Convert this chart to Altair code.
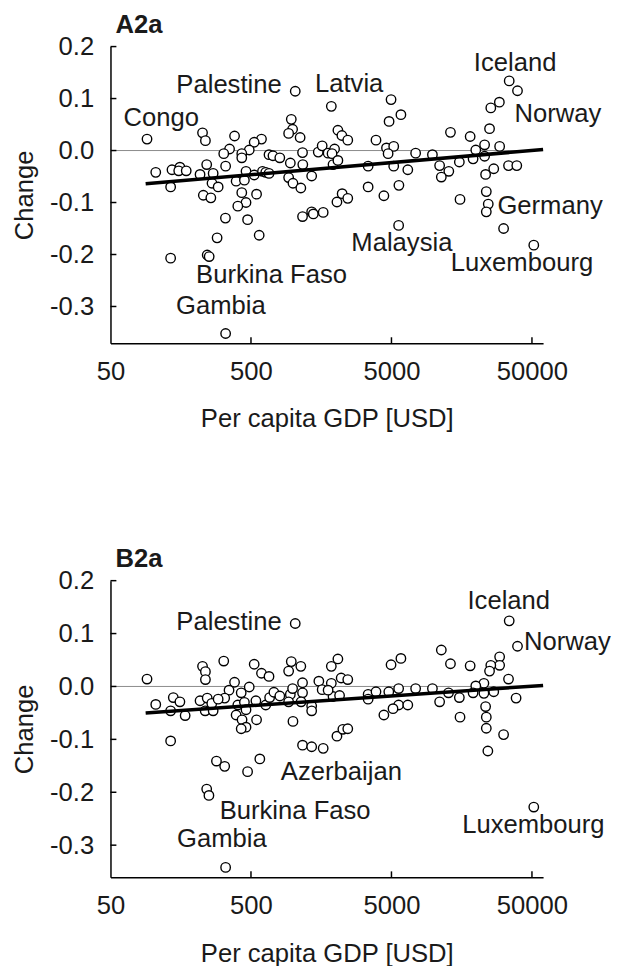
import altair as alt
import pandas as pd

FONT = "Liberation Sans"

X_TICKS = [50, 500, 5000, 50000]
Y_TICKS = [0.2, 0.1, 0.0, -0.1, -0.2, -0.3]
X_INNER_TICKS = [500, 5000, 50000]

# ---------------- Panel A2a ----------------
a_gdp = [1033, 1866, 91, 226, 237, 382, 594, 527, 968, 989, 927, 1119, 2078, 2218, 2443,
         352, 320, 486, 430, 430, 105, 137, 156, 153, 173, 134, 217, 242, 269, 264, 292, 330,
         229, 259, 392, 449, 461, 527, 604, 637, 672, 430, 461, 403, 548, 672, 717, 802, 953,
         1164, 1169, 1352, 927, 995, 1132, 1506, 1606, 1770, 1968, 1888, 1919, 2078, 329, 473,
         572, 287, 1164, 1352, 1389, 1633, 2046, 2228, 2443, 134, 244, 252, 330,
         34440, 39450, 4966, 5837, 4808, 25470, 29310, 24950, 13150, 18160, 3880, 4608, 5188,
         4732, 7430, 9783, 19910, 23010, 29440, 23010, 19050, 15210, 12800, 11320, 11010, 3411,
         5188, 6535, 23390, 26730, 34050, 38990, 3411, 4416, 5649, 15380, 23660, 24430, 23660,
         31410, 5623, 51520]
a_change = [0.114, 0.085, 0.022, 0.034, 0.019, 0.028, 0.022, 0.016, 0.060, 0.041, 0.033, 0.025,
            0.039, 0.029, 0.020, 0.003, -0.006, 0.001, -0.006, -0.014, -0.042, -0.037, -0.032,
            -0.039, -0.039, -0.070, -0.046, -0.027, -0.044, -0.063, -0.070, -0.030, -0.086,
            -0.091, -0.059, -0.057, -0.040, -0.047, -0.040, -0.042, -0.044, -0.081, -0.100,
            -0.107, -0.084, -0.008, -0.010, -0.014, -0.024, -0.004, -0.027, -0.049, -0.052,
            -0.063, -0.072, -0.003, 0.009, -0.005, 0.003, -0.006, -0.027, -0.019, -0.130,
            -0.133, -0.163, -0.168, -0.127, -0.118, -0.122, -0.119, -0.099, -0.083, -0.092,
            -0.207, -0.201, -0.204, -0.352,
            0.134, 0.115, 0.098, 0.069, 0.056, 0.082, 0.093, 0.042, 0.035, 0.027, 0.020, 0.005,
            0.008, -0.006, -0.005, -0.008, 0.001, 0.011, 0.008, -0.011, -0.016, -0.022, -0.040,
            -0.051, -0.029, -0.030, -0.030, -0.037, -0.046, -0.035, -0.029, -0.029, -0.070,
            -0.087, -0.067, -0.094, -0.079, -0.103, -0.118, -0.150, -0.144, -0.182]
a_label_text = ["Congo", "Palestine", "Latvia", "Iceland", "Norway", "Germany", "Malaysia",
                "Luxembourg", "Burkina Faso", "Gambia"]
a_label_gdp = [115, 349, 2500, 37930, 76560, 67300, 5930, 42460, 700, 305]
a_label_change = [0.062, 0.125, 0.128, 0.169, 0.071, -0.106, -0.179, -0.217, -0.239, -0.299]
a_line_gdp = [89, 60000]
a_line_change = [-0.064, 0.002]
a_ymin = -0.3706

# ---------------- Panel B2a ----------------
b_gdp = [1033, 91, 226, 237, 237, 320, 527, 594, 672, 968, 927, 1132, 1866, 2078, 1521, 1866,
         2193, 2443, 382, 349, 486, 426, 325, 105, 140, 156, 134, 170, 217, 244, 236, 269, 263,
         292, 403, 449, 461, 392, 432, 461, 426, 542, 548, 637, 679, 728, 802, 953, 989, 1164,
         1164, 1137, 1352, 1352, 927, 995, 1919, 2136, 1606, 1770, 134, 1164, 1352, 1633, 2046,
         2254, 2443, 284, 325, 473, 578, 242, 251, 330,
         34440, 39450, 11320, 4966, 5837, 13150, 18160, 29440, 29440, 25470, 24950, 34050,
         22750, 19910, 22750, 26730, 19050, 38550, 15210, 12740, 11010, 9783, 7430, 5623, 4786,
         3411, 3411, 3880, 5623, 6535, 5129, 4416, 15380, 23390, 23660, 23660, 31410, 24270,
         51520]
b_change = [0.119, 0.014, 0.038, 0.028, 0.013, 0.048, 0.042, 0.025, 0.019, 0.047, 0.029, 0.038,
            0.038, 0.052, 0.010, 0.006, 0.016, 0.013, 0.008, -0.007, -0.001, -0.012, -0.022,
            -0.034, -0.021, -0.029, -0.046, -0.055, -0.027, -0.022, -0.046, -0.046, -0.032,
            -0.024, -0.035, -0.030, -0.044, -0.054, -0.063, -0.077, -0.080, -0.027, -0.063,
            -0.035, -0.021, -0.011, -0.018, -0.015, -0.004, -0.012, 0.007, -0.029, -0.037,
            -0.046, -0.029, -0.066, -0.019, -0.017, -0.006, -0.007, -0.103, -0.111, -0.114,
            -0.117, -0.094, -0.081, -0.080, -0.141, -0.151, -0.161, -0.137, -0.194, -0.206,
            -0.342,
            0.124, 0.076, 0.069, 0.041, 0.053, 0.043, 0.039, 0.056, 0.040, 0.040, 0.029, 0.014,
            0.006, 0.001, -0.013, -0.010, -0.012, -0.022, -0.021, -0.012, -0.029, -0.004,
            -0.004, -0.004, -0.010, -0.015, -0.024, -0.010, -0.035, -0.035, -0.042, -0.054,
            -0.058, -0.038, -0.058, -0.079, -0.091, -0.122, -0.228]
b_label_text = ["Palestine", "Iceland", "Norway", "Azerbaijan", "Burkina Faso", "Gambia",
                "Luxembourg"]
b_label_gdp = [349, 34200, 89300, 2200, 1031, 310, 51170]
b_label_change = [0.122, 0.162, 0.084, -0.161, -0.235, -0.288, -0.263]
b_line_gdp = [89, 60000]
b_line_change = [-0.050, 0.002]
b_ymin = -0.3607

W, H = 439, 301
TXT = "#1a1a1a"
FS = 26


def panel(title, gdp, change, lab_text, lab_gdp, lab_change, line_gdp, line_change, ymin):
    xscale = alt.Scale(type="log", domain=[50, 60000], nice=False)
    yscale = alt.Scale(domain=[ymin, 0.2], nice=False, zero=False)
    xaxis = alt.Axis(values=X_TICKS, format="d", title="Per capita GDP [USD]", ticks=False,
                     grid=False, domainColor="black", domainWidth=1.5, labelFontSize=FS,
                     titleFontSize=FS, titleFontWeight="normal", labelFont=FONT, titleFont=FONT,
                     labelColor=TXT, titleColor=TXT, labelPadding=16, titlePadding=22,
                     labelFlush=False, labelOverlap=False)
    yaxis = alt.Axis(values=Y_TICKS, title="Change", ticks=False, grid=False,
                     labelExpr="replace(format(datum.value, '.1f'), '\u2212', '-')",
                     domainColor="black", domainWidth=1.5, labelFontSize=FS,
                     titleFontSize=FS, titleFontWeight="normal", labelFont=FONT, titleFont=FONT,
                     labelColor=TXT, titleColor=TXT, labelPadding=17, titlePadding=12,
                     labelFlush=False, labelOverlap=False)
    X = alt.X("gdp:Q", scale=xscale, axis=xaxis)
    Y = alt.Y("change:Q", scale=yscale, axis=yaxis)

    pts = pd.DataFrame({"gdp": gdp, "change": change})
    labs = pd.DataFrame({"gdp": lab_gdp, "change": lab_change, "name": lab_text})
    line = pd.DataFrame({"gdp": line_gdp, "change": line_change})

    zero = alt.Chart(pd.DataFrame({"change": [0.0]})).mark_rule(
        color="#8a8a8a", strokeWidth=1).encode(y=Y)
    points = alt.Chart(pts).mark_point(
        shape="circle", filled=False, fill="white", fillOpacity=1, stroke="black",
        strokeWidth=1.4, size=92, opacity=1).encode(x=X, y=Y)
    reg = alt.Chart(line).mark_line(color="black", strokeWidth=3.6).encode(x=X, y=Y)
    text = alt.Chart(labs).mark_text(
        fontSize=FS, font=FONT, color=TXT, align="center", baseline="middle").encode(
        x=X, y=Y, text="name:N")
    xt = alt.Chart(pd.DataFrame({"gdp": X_INNER_TICKS})).mark_rule(
        color="black", strokeWidth=1.5).encode(x=X, y=alt.value(H), y2=alt.value(H - 6))
    yt = alt.Chart(pd.DataFrame({"change": Y_TICKS})).mark_rule(
        color="black", strokeWidth=1.5).encode(y=Y, x=alt.value(0), x2=alt.value(6))

    return alt.layer(zero, points, reg, text, xt, yt).properties(
        width=W, height=H,
        title=alt.TitleParams(title, anchor="start", frame="group", fontSize=FS,
                              fontWeight="bold", font=FONT, color=TXT, dx=5, offset=-4),
    )


pa = panel("A2a", a_gdp, a_change, a_label_text, a_label_gdp, a_label_change,
           a_line_gdp, a_line_change, a_ymin)
pb = panel("B2a", b_gdp, b_change, b_label_text, b_label_gdp, b_label_change,
           b_line_gdp, b_line_change, b_ymin)

chart = alt.vconcat(pa, pb, spacing=116).properties(
    padding={"left": 4, "top": -3, "right": 5, "bottom": 0}
).configure_view(stroke=None)

chart.save("out.html", embed_options={"renderer": "svg", "actions": False})
